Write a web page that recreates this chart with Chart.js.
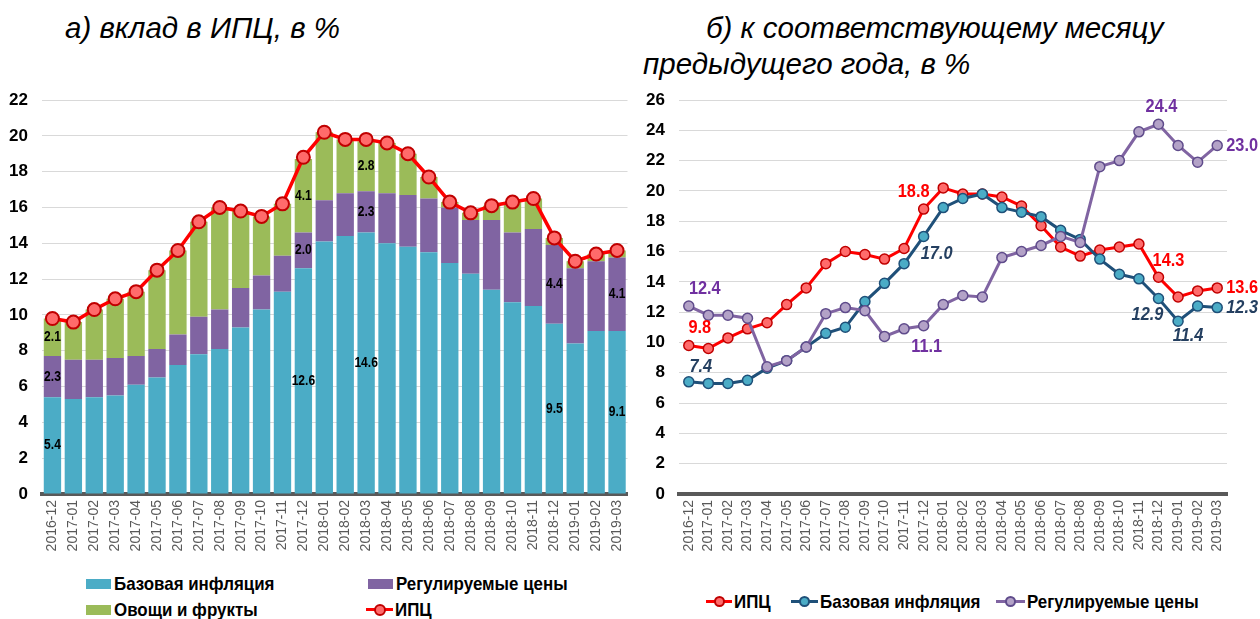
<!DOCTYPE html>
<html><head><meta charset="utf-8">
<script src="https://cdn.jsdelivr.net/npm/chart.js@4.4.1/dist/chart.umd.min.js"></script>
<style>
body{margin:0;background:#fff;width:1260px;height:619px;overflow:hidden;position:relative;}
.t{position:absolute;font-family:'Liberation Sans',Arial,sans-serif;font-style:italic;font-size:29.5px;color:#000;white-space:nowrap;line-height:30px}
.cw{position:absolute;top:0;height:570px}
.lg{position:absolute;height:24px;line-height:24px;font-family:'Liberation Sans Narrow','Arial Narrow','Liberation Sans',sans-serif;font-weight:bold;font-size:19px;color:#000;white-space:nowrap}
.lg .tx{display:inline-block;transform:scaleX(0.89);transform-origin:0 50%}
.box{position:absolute;width:25px;height:10px;top:7px;left:0}
.ln{position:absolute;height:3px;top:10px;left:0}
.dot{position:absolute;border-radius:50%;box-sizing:border-box}
</style></head>
<body>
<div class="t" style="left:65px;top:13px">а) вклад в ИПЦ, в %</div>
<div class="t" style="left:706px;top:13px">б) к соответствующему месяцу</div>
<div class="t" style="left:643px;top:49px">предыдущего года, в %</div>
<div class="cw" style="left:0;width:640px"><canvas id="c1" width="640" height="570"></canvas></div>
<div class="cw" style="left:640px;width:620px"><canvas id="c2" width="620" height="570"></canvas></div>
<div id="legends"></div>
<script>
const months = ['2016-12','2017-01','2017-02','2017-03','2017-04','2017-05','2017-06','2017-07','2017-08','2017-09','2017-10','2017-11','2017-12','2018-01','2018-02','2018-03','2018-04','2018-05','2018-06','2018-07','2018-08','2018-09','2018-10','2018-11','2018-12','2019-01','2019-02','2019-03'];
// panel a: contributions to CPI, %
const baseContrib = [5.4,5.3,5.4,5.5,6.1,6.5,7.2,7.8,8.1,9.3,10.3,11.3,12.6,14.1,14.4,14.6,14.0,13.8,13.5,12.9,12.3,11.4,10.7,10.5,9.5,8.4,9.1,9.1];
const regContrib  = [2.3,2.2,2.1,2.1,1.6,1.6,1.7,2.1,2.2,2.2,1.9,2.0,2.0,2.3,2.4,2.3,2.8,2.9,3.0,3.1,3.0,3.9,3.9,4.3,4.4,4.2,3.9,4.1];
const vegContrib  = [2.1,2.1,2.8,3.3,3.6,4.4,4.7,5.3,5.7,4.3,3.3,2.9,4.1,3.8,3.0,2.8,2.8,2.3,1.2,0.3,0.4,0.8,1.7,1.7,0.4,0.4,0.4,0.4];
const cpi         = [9.8,9.6,10.3,10.9,11.3,12.5,13.6,15.2,16.0,15.8,15.5,16.2,18.8,20.2,19.8,19.8,19.6,19.0,17.7,16.3,15.7,16.1,16.3,16.5,14.3,13.0,13.4,13.6];
// panel b: year-on-year, %
const baseYoY = [7.4,7.3,7.3,7.5,8.3,8.8,9.7,10.6,11.0,12.7,13.9,15.2,17.0,18.9,19.5,19.8,18.9,18.6,18.3,17.4,16.8,15.5,14.5,14.2,12.9,11.4,12.4,12.3];
const regYoY  = [12.4,11.8,11.8,11.6,8.4,8.8,9.7,11.9,12.3,12.1,10.4,10.9,11.1,12.5,13.1,13.0,15.6,16.0,16.4,17.0,16.6,21.6,22.0,23.9,24.4,23.0,21.9,23.0];
const seriesNames = ['Базовая инфляция','Регулируемые цены','Овощи и фрукты','ИПЦ'];
const yTicksA = [0,2,4,6,8,10,12,14,16,18,20,22];
const yTicksB = [0,2,4,6,8,10,12,14,16,18,20,22,24,26];
// which bars carry value labels in panel a (by dataset)
const labelIdxA = [[0,12,15,24,27],[0,12,15,24,27],[0,12,15]];
// which points carry value labels in panel b
const labelIdxB = {cpi:[0,12,24,27], base:[0,12,24,25,27], reg:[0,12,24,27]};

const NARROW = "'Liberation Sans Narrow','Arial Narrow','Liberation Sans',sans-serif";
const SQUEEZE = 0.86;
const C = {base:'#4bacc6', reg:'#8064a2', veg:'#9bbb59', red:'#ff0000', redFill:'#ff6b6b', redBorder:'#c00000',
           navy:'#1f5079', navyLbl:'#243f60', regLine:'#8064a2', regFill:'#b3a2c7', regBorder:'#5f4b8b', purpleLbl:'#7030a0'};

// draw text horizontally condensed (stand-in for Arial Narrow)
function narrowText(ctx, text, x, y, align){
  ctx.save();
  ctx.translate(x, y); ctx.scale(SQUEEZE, 1);
  ctx.textAlign = align;
  ctx.fillText(text, 0, 0);
  ctx.restore();
}

const barLabels = {
  id:'barLabels',
  afterDatasetsDraw(chart){
    const ctx = chart.ctx; ctx.save();
    ctx.font = 'bold 14px ' + NARROW; ctx.fillStyle = '#000'; ctx.textBaseline = 'middle';
    labelIdxA.forEach((idxs, di) => {
      const meta = chart.getDatasetMeta(di);
      idxs.forEach(i => {
        const el = meta.data[i];
        narrowText(ctx, chart.data.datasets[di].data[i].toFixed(1), el.x, (el.y + el.base) / 2, 'center');
      });
    });
    ctx.restore();
  }
};

// placement of point labels in panel b (offsets from point)
const placeB = {
  cpi:  {0:[11,-18,'center'], 12:[-10,-17,'center'], 24:[10,-17,'center'], 27:[9,0,'left']},
  base: {0:[12,-15,'center'], 12:[13,17,'center'], 24:[-11,16,'center'], 25:[10,15,'center'], 27:[9,0,'left']},
  reg:  {0:[16,-17,'center'], 12:[3,21,'center'], 24:[3,-17,'center'], 27:[9,0,'left']}
};
const pointLabels = {
  id:'pointLabels',
  afterDatasetsDraw(chart){
    const ctx = chart.ctx; ctx.save(); ctx.textBaseline = 'middle';
    chart.data.datasets.forEach((ds, di) => {
      const key = ds.key, meta = chart.getDatasetMeta(di);
      ctx.font = (key === 'base' ? 'italic bold 19px ' : 'bold 19px ') + NARROW;
      ctx.fillStyle = key === 'cpi' ? C.red : key === 'base' ? C.navyLbl : C.purpleLbl;
      labelIdxB[key].forEach(i => {
        const el = meta.data[i], p = placeB[key][i];
        narrowText(ctx, ds.data[i].toFixed(1), el.x + p[0], el.y + p[1], p[2]);
      });
    });
    ctx.restore();
  }
};

function xScale(stacked){
  return {stacked, offset:true,
    grid:{display:false, drawTicks:false},
    border:{display:true, color:'#595959', width:4},
    ticks:{autoSkip:false, maxRotation:90, minRotation:90, padding:6, color:'#595959',
           font:{family:"'Liberation Sans',Arial,sans-serif", size:14}},
    afterFit(s){ s.height = 76; }};
}
function yScale(max, width, stacked, ticks){
  return {stacked, min:0, max,
    afterBuildTicks(s){ s.ticks = ticks.map(v => ({value:v})); },
    grid:{color:'#d9d9d9', lineWidth:1, drawTicks:false},
    border:{display:false},
    ticks:{padding:14, color:'#000', font:{family:NARROW, size:17, weight:'bold'}},
    afterFit(s){ s.width = width; }};
}

new Chart(document.getElementById('c1'), {
  data:{labels:months, datasets:[
    {type:'bar', label:seriesNames[0], data:baseContrib, backgroundColor:C.base, stack:'s', order:1, barPercentage:0.83, categoryPercentage:1},
    {type:'bar', label:seriesNames[1], data:regContrib, backgroundColor:C.reg, stack:'s', order:1, barPercentage:0.83, categoryPercentage:1},
    {type:'bar', label:seriesNames[2], data:vegContrib, backgroundColor:C.veg, stack:'s', order:1, barPercentage:0.83, categoryPercentage:1},
    {type:'line', label:seriesNames[3], data:cpi, stack:'l', order:0, borderColor:C.red, borderWidth:3.5,
     pointRadius:6.5, pointBorderWidth:2, pointBackgroundColor:C.redFill, pointBorderColor:C.redBorder, tension:0}
  ]},
  options:{responsive:false, devicePixelRatio:1, animation:false,
    layout:{padding:{top:100, right:8, left:0, bottom:0}},
    plugins:{legend:{display:false}, tooltip:{enabled:false}},
    scales:{x:xScale(true), y:yScale(22, 42, true, yTicksA)}},
  plugins:[barLabels]
});

new Chart(document.getElementById('c2'), {
  type:'line',
  data:{labels:months, datasets:[
    {key:'cpi', label:seriesNames[3], data:cpi, order:3, borderColor:C.red, borderWidth:3,
     pointRadius:5, pointBorderWidth:1.5, pointBackgroundColor:C.redFill, pointBorderColor:C.redBorder},
    {key:'base', label:seriesNames[0], data:baseYoY, order:2, borderColor:C.navy, borderWidth:3,
     pointRadius:5, pointBorderWidth:1.5, pointBackgroundColor:C.base, pointBorderColor:C.navy},
    {key:'reg', label:seriesNames[1], data:regYoY, order:1, borderColor:C.regLine, borderWidth:3,
     pointRadius:5, pointBorderWidth:1.5, pointBackgroundColor:C.regFill, pointBorderColor:C.regBorder}
  ]},
  options:{responsive:false, devicePixelRatio:1, animation:false,
    layout:{padding:{top:100, right:33, left:0, bottom:0}},
    plugins:{legend:{display:false}, tooltip:{enabled:false}},
    scales:{x:xScale(false), y:yScale(26, 39, false, yTicksB)}},
  plugins:[pointLabels]
});

// HTML legends
const L = document.getElementById('legends');
function boxItem(x, y, color, text){
  L.insertAdjacentHTML('beforeend', `<div class="lg" style="left:${x}px;top:${y-12}px;padding-left:28px"><span class="box" style="background:${color}"></span><span class="tx">${text}</span></div>`);
}
function lineItem(x, y, w, line, fill, border, r, text){
  L.insertAdjacentHTML('beforeend', `<div class="lg" style="left:${x}px;top:${y-12}px;padding-left:${w+2}px"><span class="ln" style="width:${w}px;background:${line}"></span><span class="dot" style="left:${w/2-r}px;top:${11.5-r}px;width:${2*r}px;height:${2*r}px;background:${fill};border:2px solid ${border}"></span><span class="tx">${text}</span></div>`);
}
boxItem(86, 584, C.base, seriesNames[0]);
boxItem(368, 584, C.reg, seriesNames[1]);
boxItem(86, 610, C.veg, seriesNames[2]);
lineItem(366, 610, 27, C.red, C.redFill, C.redBorder, 6, seriesNames[3]);
lineItem(706, 602, 26, C.red, C.redFill, C.redBorder, 5.5, seriesNames[3]);
lineItem(791, 602, 27, C.navy, C.base, C.navy, 5.5, seriesNames[0]);
lineItem(996, 602, 29, C.regLine, C.regFill, C.regBorder, 5.5, seriesNames[1]);
</script>
</body></html>
